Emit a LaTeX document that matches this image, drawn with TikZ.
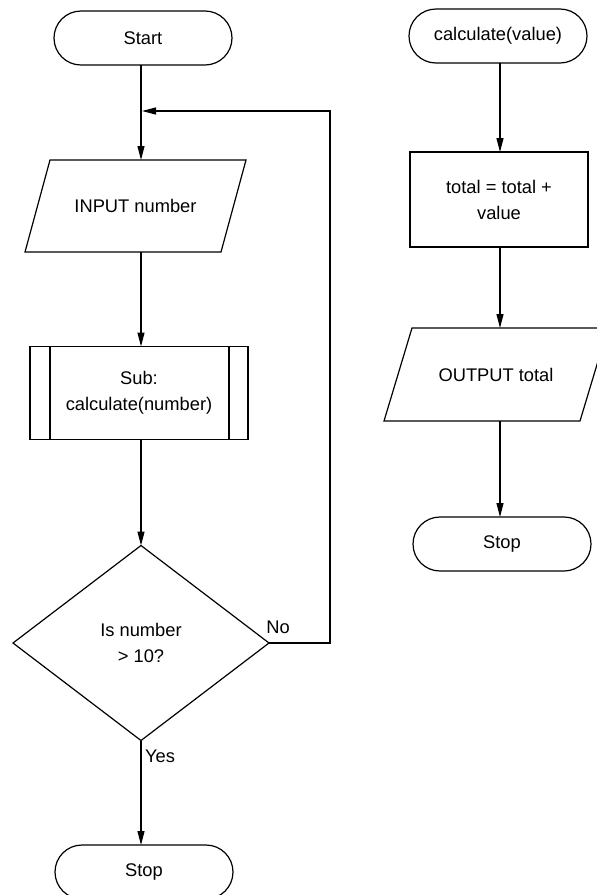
\documentclass[tikz,border=0pt]{standalone}
\usepackage{fontspec}
\setmainfont{Liberation Sans}
\usetikzlibrary{shapes.misc,shapes.geometric,arrows.meta}
\tikzset{
  base/.style={draw=black, line width=1.2pt, inner sep=0pt, outer sep=0pt, align=center,
    font=\fontsize{18.3}{26}\selectfont},
  term/.style={base, rounded rectangle, minimum width=178pt, minimum height=54pt},
  proc/.style={base, rectangle, minimum width=178pt, minimum height=95pt},
  subr/.style={base, rectangle, minimum width=218pt, minimum height=93pt},
  io/.style={base, draw=none, rectangle, minimum width=196pt, minimum height=92pt},
  decision/.style={base, diamond, minimum width=256pt, minimum height=195pt},
  conn/.style={line width=1.2pt, -{Triangle[length=14pt,width=7pt]}},
  plain/.style={line width=1.2pt, line join=miter},
  lbl/.style={font=\fontsize{18.3}{22}\selectfont, inner sep=0pt}
}
\newcommand{\paraio}[2]{%
  \draw[plain] ([xshift=#2]#1.north west) -- ([xshift=#2]#1.north east)
    -- ([xshift=-#2]#1.south east) -- ([xshift=-#2]#1.south west) -- cycle;}
\begin{document}
\begin{tikzpicture}[x=1pt,y=-1pt]
\useasboundingbox (0,0) rectangle (597,895);
% left column
\node[term] (start) at (143,38) {Start};
\node[io] (input) at (135.5,206) {INPUT number};
\paraio{input}{12.5pt}
\node[subr] (sub) at (139,393) {Sub:\\calculate(number)};
\draw[plain] ([xshift=20pt]sub.north west) -- ([xshift=20pt]sub.south west);
\draw[plain] ([xshift=-19pt]sub.north east) -- ([xshift=-19pt]sub.south east);
\node[decision] (dec) at (141,643) {Is number\\> 10?};
\node[term] (stop1) at (144,872) {Stop};
\coordinate (lp) at (330,111);
% right column
\node[term] (calc) at (498,36) {calculate(value)};
\node[proc] (tot) at (499,199.5) {total = total +\\value};
\node[io, minimum height=93pt] (out) at (496,374.5) {OUTPUT total};
\paraio{out}{14pt}
\node[term] (stop2) at (502,544) {Stop};
% connectors left
\draw[conn] (start.south -| dec.north) -- (dec.north |- input.north);
\draw[conn] (dec.north |- input.south) -- (dec.north |- sub.north);
\draw[conn] (dec.north |- sub.south) -- (dec.north);
\draw[conn] (dec.south) -- (dec.south |- stop1.north);
\draw[conn] (dec.east) -| (lp) -- ([xshift=1pt]lp -| dec.north);
\node[lbl] (no) at (278,627) {No};
\node[lbl] (yes) at (160,756) {Yes};
% connectors right
\draw[conn] ([xshift=2pt]calc.south) -- ([xshift=2pt]calc.south |- tot.north);
\draw[conn] ([xshift=2pt]calc.south |- tot.south) -- ([xshift=2pt]calc.south |- out.north);
\draw[conn] ([xshift=2pt]calc.south |- out.south) -- ([xshift=2pt]calc.south |- stop2.north);
\end{tikzpicture}
\end{document}
